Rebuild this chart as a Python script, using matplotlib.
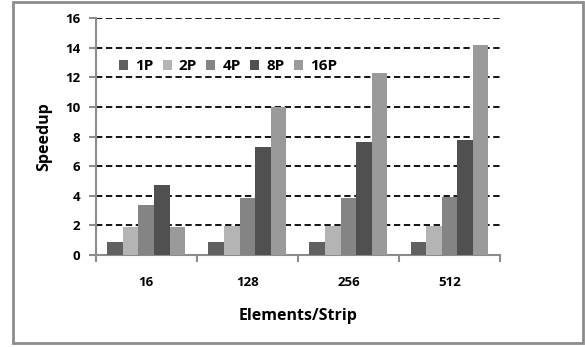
import numpy as np
import matplotlib.pyplot as plt
from matplotlib.patches import Rectangle

plt.rcParams['font.family'] = ['Open Sans', 'DejaVu Sans']
plt.rcParams['font.weight'] = 'bold'

categories = ['16', '128', '256', '512']
series_names = ['1P', '2P', '4P', '8P', '16P']
speedup = {
    '1P': [0.9, 0.9, 0.9, 0.9],
    '2P': [1.87, 1.93, 1.95, 1.95],
    '4P': [3.38, 3.87, 3.85, 3.94],
    '8P': [4.73, 7.32, 7.61, 7.77],
    '16P': [1.87, 9.98, 12.3, 14.17],
}
colors = ['#606060', '#b4b4b4', '#848484', '#505050', '#9a9a9a']

fig = plt.figure(figsize=(5.85, 3.47), dpi=100)
ax = fig.add_axes([0.1636, 0.2651, 0.691, 0.683])

# grey frame round the whole chart
fig.patches.append(Rectangle((12.5 / 585, 4 / 347), 570 / 585, 341 / 347,
                             transform=fig.transFigure, fill=False,
                             edgecolor='#8c8c8c', linewidth=2))

x = np.arange(len(categories))
bar_w = 0.154
for k, name in enumerate(series_names):
    offs = (k - 2) * bar_w
    ax.bar(x + offs, speedup[name], bar_w, color=colors[k], label=name, zorder=3)

ax.set_xlim(-0.5, len(categories) - 0.5)
ax.set_ylim(0, 16)
ax.set_yticks(range(0, 17, 2))
ax.yaxis.grid(True, linestyle=(0, (3.5, 2)), color='black', linewidth=1.3)
ax.set_axisbelow(True)

ax.set_xticks(x)
ax.set_xticklabels(categories)
ax.set_xticks(np.arange(-0.5, len(categories)), minor=True)
ax.tick_params(axis='x', which='major', length=0, pad=15, labelsize=9.5)
ax.tick_params(axis='x', which='minor', length=5, width=1.5, color='#8c8c8c')
ax.tick_params(axis='y', length=5, width=1.5, color='#8c8c8c', labelsize=9.5, pad=6)

for side in ['top', 'right']:
    ax.spines[side].set_visible(False)
for side in ['left', 'bottom']:
    ax.spines[side].set_color('#8c8c8c')
    ax.spines[side].set_linewidth(1.5)

ax.set_ylabel('Speedup', fontsize=11.5, fontweight='bold')
ax.yaxis.set_label_coords(-0.108, 0.5)
ax.set_xlabel('Elements/Strip', fontsize=11.5, fontweight='bold', labelpad=14)

ax.legend(ncol=5, loc='center left', bbox_to_anchor=(0.042, 0.797), frameon=False,
          fontsize=11, handlelength=0.59, handleheight=0.59, handletextpad=0.46,
          columnspacing=0.62, borderaxespad=0)

fig.savefig('out.png', dpi=100)
